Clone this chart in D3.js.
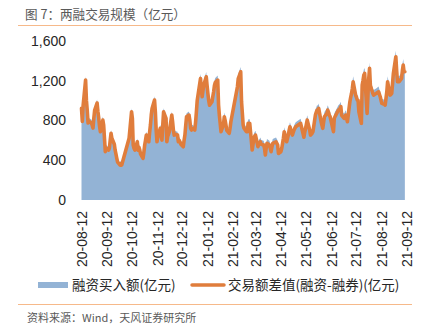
<!DOCTYPE html>
<html><head><meta charset="utf-8">
<script src="https://cdn.jsdelivr.net/npm/d3@7"></script>
<style>
html,body{margin:0;padding:0;background:#fff;}
svg{display:block;}
</style></head>
<body>
<svg id="chart" width="430" height="332"></svg>
<script>
// ---- data ----
const title = "图 7：两融交易规模（亿元）";
const source = "资料来源：Wind，天风证券研究所";
const seriesNames = ["融资买入额(亿元)", "交易额差值(融资-融券)(亿元)"];
const tickLabels = ["20-08-12","20-09-12","20-10-12","20-11-12","20-12-12","21-01-12","21-02-12","21-03-12","21-04-12","21-05-12","21-06-12","21-07-12","21-08-12","21-09-12"];
const yTicks = [0, 400, 800, 1200, 1600];

const dates = [
 "2020-08-12","2020-08-13","2020-08-14","2020-08-17","2020-08-18","2020-08-19","2020-08-20","2020-08-21","2020-08-24","2020-08-25","2020-08-26","2020-08-27","2020-08-28","2020-08-31",
 "2020-09-01","2020-09-02","2020-09-03","2020-09-04","2020-09-07","2020-09-08","2020-09-09","2020-09-10","2020-09-11","2020-09-14","2020-09-15","2020-09-16","2020-09-17","2020-09-18","2020-09-21","2020-09-22","2020-09-23","2020-09-24","2020-09-25","2020-09-28","2020-09-29","2020-09-30",
 "2020-10-09","2020-10-12","2020-10-13","2020-10-14","2020-10-15","2020-10-16","2020-10-19","2020-10-20","2020-10-21","2020-10-22","2020-10-23","2020-10-26","2020-10-27","2020-10-28","2020-10-29","2020-10-30",
 "2020-11-02","2020-11-03","2020-11-04","2020-11-05","2020-11-06","2020-11-09","2020-11-10","2020-11-11","2020-11-12","2020-11-13","2020-11-16","2020-11-17","2020-11-18","2020-11-19","2020-11-20","2020-11-23","2020-11-24","2020-11-25","2020-11-26","2020-11-27","2020-11-30",
 "2020-12-01","2020-12-02","2020-12-03","2020-12-04","2020-12-07","2020-12-08","2020-12-09","2020-12-10","2020-12-11","2020-12-14","2020-12-15","2020-12-16","2020-12-17","2020-12-18","2020-12-21","2020-12-22","2020-12-23","2020-12-24","2020-12-25","2020-12-28","2020-12-29","2020-12-30","2020-12-31",
 "2021-01-04","2021-01-05","2021-01-06","2021-01-07","2021-01-08","2021-01-11","2021-01-12","2021-01-13","2021-01-14","2021-01-15","2021-01-18","2021-01-19","2021-01-20","2021-01-21","2021-01-22","2021-01-25","2021-01-26","2021-01-27","2021-01-28","2021-01-29",
 "2021-02-01","2021-02-02","2021-02-03","2021-02-04","2021-02-05","2021-02-08","2021-02-09","2021-02-10","2021-02-18","2021-02-19","2021-02-22","2021-02-23","2021-02-24","2021-02-25","2021-02-26",
 "2021-03-01","2021-03-02","2021-03-03","2021-03-04","2021-03-05","2021-03-08","2021-03-09","2021-03-10","2021-03-11","2021-03-12","2021-03-15","2021-03-16","2021-03-17","2021-03-18","2021-03-19","2021-03-22","2021-03-23","2021-03-24","2021-03-25","2021-03-26","2021-03-29","2021-03-30","2021-03-31",
 "2021-04-01","2021-04-02","2021-04-06","2021-04-07","2021-04-08","2021-04-09","2021-04-12","2021-04-13","2021-04-14","2021-04-15","2021-04-16","2021-04-19","2021-04-20","2021-04-21","2021-04-22","2021-04-23","2021-04-26","2021-04-27","2021-04-28","2021-04-29","2021-04-30",
 "2021-05-06","2021-05-07","2021-05-10","2021-05-11","2021-05-12","2021-05-13","2021-05-14","2021-05-17","2021-05-18","2021-05-19","2021-05-20","2021-05-21","2021-05-24","2021-05-25","2021-05-26","2021-05-27","2021-05-28","2021-05-31",
 "2021-06-01","2021-06-02","2021-06-03","2021-06-04","2021-06-07","2021-06-08","2021-06-09","2021-06-10","2021-06-11","2021-06-15","2021-06-16","2021-06-17","2021-06-18","2021-06-21","2021-06-22","2021-06-23","2021-06-24","2021-06-25","2021-06-28","2021-06-29","2021-06-30",
 "2021-07-01","2021-07-02","2021-07-05","2021-07-06","2021-07-07","2021-07-08","2021-07-09","2021-07-12","2021-07-13","2021-07-14","2021-07-15","2021-07-16","2021-07-19","2021-07-20","2021-07-21","2021-07-22","2021-07-23","2021-07-26","2021-07-27","2021-07-28","2021-07-29","2021-07-30",
 "2021-08-02","2021-08-03","2021-08-04","2021-08-05","2021-08-06","2021-08-09","2021-08-10","2021-08-11","2021-08-12","2021-08-13","2021-08-16","2021-08-17","2021-08-18","2021-08-19","2021-08-20","2021-08-23","2021-08-24","2021-08-25","2021-08-26","2021-08-27","2021-08-30","2021-08-31",
 "2021-09-01","2021-09-02","2021-09-03","2021-09-06","2021-09-07","2021-09-08","2021-09-09","2021-09-10"
];

// 融资买入额 (亿元)
const financingBuy = [
 955,822,988,1242,1036,934,806,823,808,783,754,856,936,1010,
 925,856,772,718,838,786,652,516,552,531,554,633,704,652,592,531,491,448,410,380,394,380,
 652,922,855,585,552,534,618,532,562,534,491,449,512,585,634,686,
 618,714,788,890,956,1042,922,734,618,668,755,684,635,785,922,855,618,674,694,720,890,
 822,735,686,694,686,618,634,618,593,567,634,686,785,872,890,836,755,737,755,737,816,924,1040,
 1268,1165,1080,1145,1200,1285,1196,1114,1043,996,1031,1085,1133,1197,1226,1250,998,894,812,728,
 803,880,845,797,744,713,764,831,1184,1268,1337,1033,915,797,764,
 730,729,815,804,815,545,603,662,684,696,577,603,613,628,603,595,562,494,562,612,595,562,527,
 572,612,628,613,595,510,527,562,612,664,731,628,664,697,746,782,697,725,749,766,782,
 816,782,674,725,766,806,850,748,696,705,715,731,900,928,951,948,968,832,
 796,766,827,884,918,952,928,897,883,731,867,888,901,952,960,970,988,897,866,887,901,
 866,832,1036,1080,1121,1172,1242,1104,1079,1052,1048,931,815,1206,1254,1310,1327,916,1100,1276,1380,1202,
 1120,1104,1110,1116,1121,1139,1111,1087,1049,1018,1008,1000,1070,1139,1243,1104,1110,1121,1225,1329,1500,1360,
 1243,1245,1243,1277,1360,1417,1346,1300
];

// 交易额差值(融资-融券) (亿元)
const tradeDiff = [
 920,790,950,1205,1000,900,773,790,776,750,722,820,900,974,
 890,823,740,686,803,753,620,485,520,500,522,600,670,620,560,500,460,418,380,351,365,351,
 620,886,820,552,520,502,585,500,530,502,460,418,480,552,600,652,
 585,680,753,853,920,1004,886,700,585,635,720,650,602,750,886,820,585,640,660,686,853,
 786,700,652,660,652,585,600,585,560,535,600,652,750,836,853,800,720,703,720,703,780,886,1000,
 1221,1120,1037,1100,1154,1238,1150,1070,1000,953,987,1040,1087,1150,1180,1204,953,850,770,686,
 760,836,800,753,700,670,720,786,1137,1220,1288,987,870,753,720,
 686,686,770,760,770,502,560,619,640,652,535,560,570,585,560,552,520,452,520,569,552,520,485,
 530,569,585,570,552,468,485,520,569,620,686,585,620,652,700,736,652,680,703,720,736,
 770,736,630,680,720,760,803,703,652,660,670,686,853,880,903,900,920,786,
 750,720,780,836,870,903,880,850,836,686,820,840,853,903,910,920,937,850,820,840,853,
 820,786,987,1030,1070,1120,1188,1054,1030,1004,1000,886,770,1154,1200,1255,1271,870,1050,1221,1322,1150,
 1070,1054,1060,1065,1070,1087,1060,1037,1000,970,960,953,1020,1087,1188,1054,1060,1070,1170,1271,1439,1300,
 1188,1190,1188,1221,1300,1355,1288,1288
];

// ---- build ----
const parse = d3.timeParse("%Y-%m-%d");
const parseTick = d3.timeParse("%y-%m-%d");
const n = Math.min(dates.length, financingBuy.length, tradeDiff.length);
const rows = d3.range(n).map(i => ({date: parse(dates[i]), buy: financingBuy[i], diff: tradeDiff[i]}));

const svg = d3.select("#chart");
const cjk = "'Noto Sans CJK SC','Noto Sans',sans-serif";
const latin = "'Liberation Sans',Arial,sans-serif";

const x = d3.scaleTime()
  .domain([parseTick(tickLabels[0]), parseTick(tickLabels[tickLabels.length-1])])
  .range([81.5, 406.5]);
const y = d3.scaleLinear().domain([0, 1600]).range([200, 40.7]);

// title & rules
svg.append("text").attr("x", 25).attr("y", 18.5)
  .attr("font-family", cjk).attr("font-size", 12.6).attr("fill", "#595959").text(title);
svg.append("line").attr("x1", 18).attr("x2", 412).attr("y1", 25.5).attr("y2", 25.5)
  .attr("stroke", "#f6b98a").attr("stroke-width", 1.2);
svg.append("line").attr("x1", 18).attr("x2", 412).attr("y1", 304.5).attr("y2", 304.5)
  .attr("stroke", "#f6b98a").attr("stroke-width", 1.2);
svg.append("text").attr("x", 27).attr("y", 322)
  .attr("font-family", cjk).attr("font-size", 11).attr("fill", "#595959").text(source);

// area
svg.append("path").datum(rows)
  .attr("fill", "#93b3d5")
  .attr("d", d3.area().x(d => x(d.date)).y0(y(0)).y1(d => y(d.buy)));

// line
svg.append("path").datum(rows)
  .attr("fill", "none").attr("stroke", "#e07d3c").attr("stroke-width", 3.6)
  .attr("stroke-linejoin", "round").attr("stroke-linecap", "round")
  .attr("d", d3.line().x(d => x(d.date)).y(d => y(d.diff)));

// y axis
const yAxis = svg.append("g").attr("transform", "translate(66,0)")
  .call(d3.axisLeft(y).tickValues(yTicks).tickSize(0).tickPadding(0).tickFormat(d3.format(",")));
yAxis.select(".domain").remove();
yAxis.selectAll("text").attr("font-family", latin).attr("font-size", 14).attr("fill", "#262626");

// x axis
const xAxis = svg.append("g").attr("transform", "translate(0,200)")
  .call(d3.axisBottom(x).tickValues(tickLabels.map(parseTick)).tickSize(0)
    .tickFormat((d, i) => tickLabels[i]));
xAxis.select(".domain").remove();
xAxis.selectAll("text")
  .attr("font-family", latin).attr("font-size", 14).attr("fill", "#262626")
  .attr("transform", "rotate(-90)")
  .attr("x", -11).attr("y", 0).attr("dy", "0.36em")
  .attr("text-anchor", "end");

// legend
const lg = svg.append("g");
lg.append("rect").attr("x", 38).attr("y", 282).attr("width", 30).attr("height", 6).attr("fill", "#93b3d5");
lg.append("text").attr("x", 72).attr("y", 290).attr("font-family", cjk).attr("font-size", 13.5)
  .attr("fill", "#262626").text(seriesNames[0]);
lg.append("line").attr("x1", 192).attr("x2", 224).attr("y1", 285).attr("y2", 285)
  .attr("stroke", "#e07d3c").attr("stroke-width", 3.5).attr("stroke-linecap", "round");
lg.append("text").attr("x", 228).attr("y", 290).attr("font-family", cjk).attr("font-size", 13.5)
  .attr("fill", "#262626").text(seriesNames[1]);
</script>
</body></html>
